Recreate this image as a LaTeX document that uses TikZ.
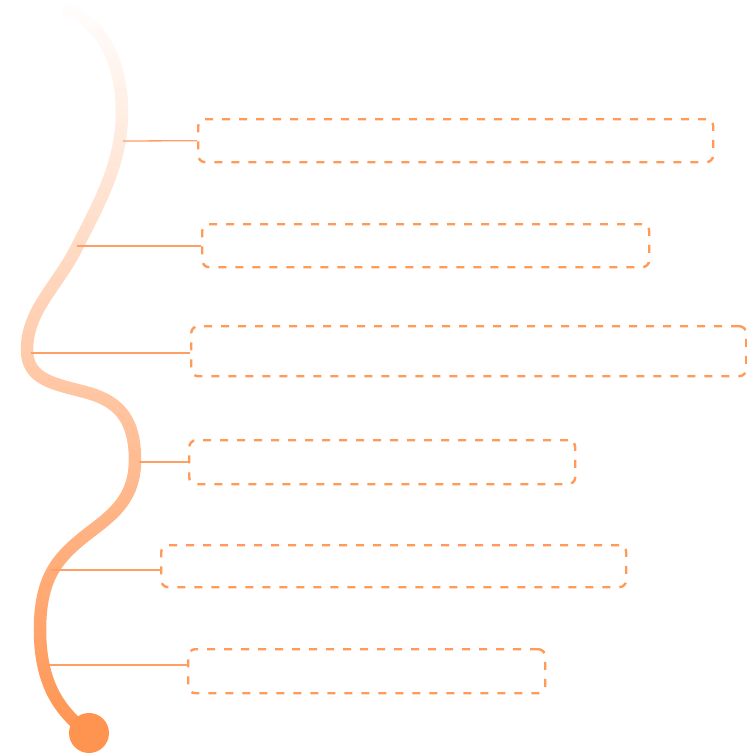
\documentclass[tikz,border=0pt]{standalone}
\usetikzlibrary{fadings}
\definecolor{orng}{HTML}{FF9350}
\definecolor{dashc}{HTML}{FF9A58}
\definecolor{linkc}{HTML}{FF9F64}
\tikzfading[name=fadedown, top color=transparent!0, bottom color=transparent!100]
\tikzset{
  infobox/.style={draw=dashc, line width=2.4pt, dash pattern=on 8pt off 9pt, rounded corners=7pt, anchor=north west, inner sep=0pt},
  link/.style={draw=linkc, line width=1.3pt}
}
\begin{document}
\begin{tikzpicture}[x=1pt,y=-1pt]
\useasboundingbox (0,0) rectangle (747,753);
% curve
\draw[orng, line width=12.5pt, line cap=round]
  (68,10) .. controls (100,22) and (122,60) .. (122,112)
  .. controls (122,165) and (97,207) .. (77,247)
  .. controls (57,287) and (27,310) .. (27,350)
  .. controls (27,380) and (55,384) .. (85,392)
  .. controls (115,400) and (135,415) .. (135,460)
  .. controls (135,505) and (104,520) .. (80,540)
  .. controls (56,560) and (40,580) .. (40,630)
  .. controls (40,690) and (65,715) .. (88,733);
\fill[white, path fading=fadedown] (0,0) rectangle (152,745);
\node[circle, fill=orng, minimum size=40pt, inner sep=0pt] (dot) at (89,733) {};
% boxes
\node[infobox, minimum width=515pt, minimum height=43pt] (b1) at (197,118) {};
\node[infobox, minimum width=447pt, minimum height=43pt] (b2) at (201,223) {};
\node[infobox, minimum width=555pt, minimum height=50pt] (b3) at (190,325) {};
\node[infobox, minimum width=386pt, minimum height=44pt] (b4) at (188,439) {};
\node[infobox, minimum width=465pt, minimum height=42pt] (b5) at (160,544) {};
\node[infobox, minimum width=357pt, minimum height=44pt] (b6) at (187,648) {};
% connectors
\coordinate (c1) at (123,141);
\coordinate (c2) at (77,246);
\coordinate (c3) at (31,353);
\coordinate (c4) at (139,462);
\coordinate (c5) at (51,570);
\coordinate (c6) at (47,665);
\draw[link] (c1) -- (b1.west);
\draw[link] (c2) -- (c2 -| b2.west);
\draw[link] (c3) -- (c3 -| b3.west);
\draw[link] (c4) -- (c4 -| b4.west);
\draw[link] (c5) -- (c5 -| b5.west);
\draw[link] (c6) -- (c6 -| b6.west);
\end{tikzpicture}
\end{document}
